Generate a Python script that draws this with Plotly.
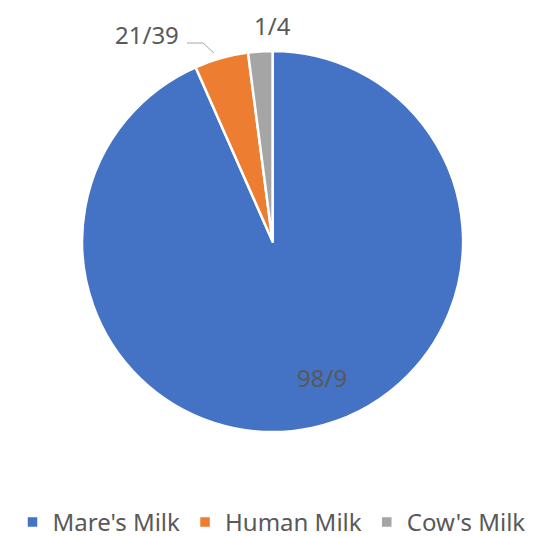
import plotly.graph_objects as go

categories = ["Mare's Milk", "Human Milk", "Cow's Milk"]
values = [93.4, 4.56, 2.06]
data_labels = ["98/9", "21/39", "1/4"]
colors = ["#4472C4", "#ED7D31", "#A5A5A5"]

W, H = 543, 537
FONT = "Noto Sans"
TXT = "#595959"

fig = go.Figure()
fig.add_trace(go.Pie(
    labels=categories,
    values=values,
    sort=False,
    direction="clockwise",
    rotation=0,
    marker=dict(colors=colors, line=dict(color="white", width=2.5)),
    textinfo="none",
    domain=dict(x=[0.151, 0.853], y=[0.1955, 0.905]),
    showlegend=True,
))

# data label positions (pixels in the image)
label_pos = [(322, 377), (147, 34), (272, 25)]
for txt, (px, py) in zip(data_labels, label_pos):
    fig.add_annotation(
        x=px / W, y=1 - py / H, xref="paper", yref="paper",
        text=txt, showarrow=False,
        font=dict(family=FONT, size=24, color=TXT),
        xanchor="center", yanchor="middle",
    )

# leader line for the Human Milk label
fig.add_shape(
    type="path", xref="paper", yref="paper",
    path=f"M {187/W},{1-43/H} L {203/W},{1-43/H} L {214/W},{1-53/H}",
    line=dict(color="#A6A6A6", width=1),
)

fig.update_layout(
    width=W, height=H,
    margin=dict(l=0, r=0, t=0, b=0, autoexpand=False),
    paper_bgcolor="white",
    plot_bgcolor="white",
    legend=dict(
        orientation="h",
        x=0.5, xanchor="center",
        y=1 - 500 / H, yanchor="top",
        font=dict(family=FONT, size=24, color=TXT),
        traceorder="normal",
        itemwidth=30,
    ),
)

fig.write_html("out.html")
